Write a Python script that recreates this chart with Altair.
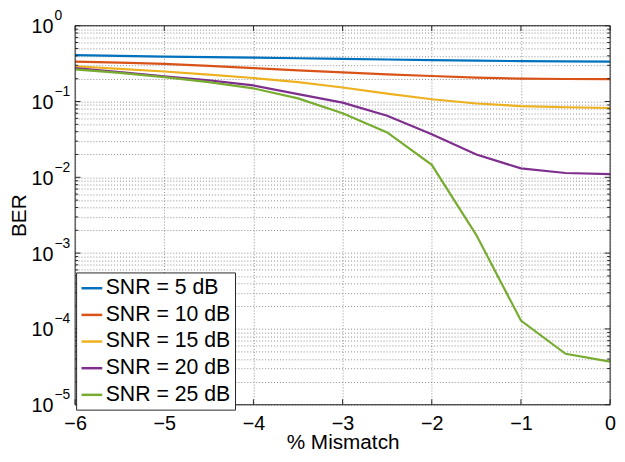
import altair as alt
import pandas as pd

# ---- data ----
mismatch = [-6, -5.5, -5, -4.5, -4, -3.5, -3, -2.5, -2, -1.5, -1, -0.5, 0]
ber_snr5 = [0.41, 0.40, 0.391, 0.385, 0.38, 0.372, 0.365, 0.358, 0.352, 0.346, 0.341, 0.338, 0.336]
ber_snr10 = [0.335, 0.325, 0.314, 0.295, 0.276, 0.258, 0.242, 0.228, 0.217, 0.207, 0.200, 0.198, 0.197]
ber_snr15 = [0.292, 0.27, 0.249, 0.226, 0.204, 0.18, 0.153, 0.127, 0.107, 0.094, 0.087, 0.084, 0.082]
ber_snr20 = [0.276, 0.245, 0.215, 0.19, 0.163, 0.125, 0.0965, 0.065, 0.037, 0.0200, 0.0131, 0.0114, 0.011]
ber_snr25 = [0.265, 0.238, 0.21, 0.18, 0.149, 0.11, 0.07, 0.039, 0.0146, 0.00173, 0.000129, 0.000047, 0.000037]

series_labels = ["SNR = 5 dB", "SNR = 10 dB", "SNR = 15 dB", "SNR = 20 dB", "SNR = 25 dB"]
series_colors = ["#0072BD", "#D95319", "#EDB120", "#7E2F8E", "#77AC30"]

x_ticks = [-6, -5, -4, -3, -2, -1, 0]
y_decades = [1e-5, 1e-4, 1e-3, 1e-2, 1e-1, 1]
y_exponents = ["\u22125", "\u22124", "\u22123", "\u22122", "\u22121", "0"]
y_minor = [m * 10.0 ** k for k in range(-5, 0) for m in range(2, 10)]

# ---- tables built from the arrays ----
all_series = [ber_snr5, ber_snr10, ber_snr15, ber_snr20, ber_snr25]
rows = []
for si, (lab, vals) in enumerate(zip(series_labels, all_series)):
    for xv, yv in zip(mismatch, vals):
        rows.append({"x": xv, "ber": yv, "series": lab, "k": si})
df_lines = pd.DataFrame(rows)
df_dec = pd.DataFrame({"ber": y_decades, "ten": ["10"] * len(y_decades), "exp": y_exponents})
df_minor = pd.DataFrame({"ber": y_minor})
df_xt = pd.DataFrame({"x": x_ticks})
df_one = pd.DataFrame({"a": [0]})

W, H = 542, 384
FONT = "Liberation Sans"
FRAME = "#262626"
GRID = "#8c8c8c"

xscale = alt.Scale(domain=[-6, 0], nice=False, zero=False)
yscale = alt.Scale(type="log", domain=[1e-5, 1], nice=False)

xaxis = alt.Axis(values=x_ticks, format="d", grid=True, gridDash=[1, 2], gridColor=GRID,
                 gridOpacity=1, ticks=False, domain=False,
                 labelFontSize=20, labelFont=FONT, labelColor="black",
                 labelPadding=9, labelFlush=False,
                 title="% Mismatch", titleFontSize=21, titleFont=FONT,
                 titleFontWeight="normal", titleColor="black",
                 titleY=44, titleBaseline="alphabetic")
yaxis = alt.Axis(values=y_decades + y_minor, grid=True, gridDash=[1, 2], gridColor=GRID,
                 gridOpacity=1, ticks=False, domain=False, labels=False,
                 title="BER", titleFontSize=21, titleFont=FONT,
                 titleFontWeight="normal", titleColor="black",
                 titleX=-56, titleY=192, titleAngle=270,
                 titleAlign="center", titleBaseline="middle")

lines = alt.Chart(df_lines).mark_line(strokeWidth=2.2).encode(
    x=alt.X("x:Q", scale=xscale, axis=xaxis),
    y=alt.Y("ber:Q", scale=yscale, axis=yaxis),
    color=alt.Color("series:N",
                    scale=alt.Scale(domain=series_labels, range=series_colors),
                    legend=alt.Legend(title=None, orient="none", legendX=1, legendY=250,
                                      symbolType="stroke", symbolSize=441,
                                      symbolStrokeWidth=2.5, labelFontSize=21.5,
                                      labelFont=FONT, labelColor="black",
                                      labelOffset=2, rowPadding=4, padding=4,
                                      strokeColor=FRAME, fillColor="white",
                                      cornerRadius=0)),
    order=alt.Order("k:Q"),
)

ymaj_l = alt.Chart(df_dec).mark_rule(color=FRAME).encode(
    y=alt.Y("ber:Q", scale=yscale), x=alt.value(0), x2=alt.value(5.5))
ymaj_r = alt.Chart(df_dec).mark_rule(color=FRAME).encode(
    y=alt.Y("ber:Q", scale=yscale), x=alt.value(W), x2=alt.value(W - 5.5))
ymin_l = alt.Chart(df_minor).mark_rule(color=FRAME).encode(
    y=alt.Y("ber:Q", scale=yscale), x=alt.value(0), x2=alt.value(3))
ymin_r = alt.Chart(df_minor).mark_rule(color=FRAME).encode(
    y=alt.Y("ber:Q", scale=yscale), x=alt.value(W), x2=alt.value(W - 3))
xt_b = alt.Chart(df_xt).mark_rule(color=FRAME).encode(
    x=alt.X("x:Q", scale=xscale), y=alt.value(H), y2=alt.value(H - 5.5))
xt_t = alt.Chart(df_xt).mark_rule(color=FRAME).encode(
    x=alt.X("x:Q", scale=xscale), y=alt.value(0), y2=alt.value(5.5))

ten = alt.Chart(df_dec).mark_text(align="right", baseline="middle", fontSize=20,
                                  font=FONT, color="black", dy=1.5).encode(
    y=alt.Y("ber:Q", scale=yscale), x=alt.value(-22), text="ten:N")
expo = alt.Chart(df_dec).mark_text(align="left", baseline="middle", fontSize=14,
                                   font=FONT, color="black", dy=-9.5).encode(
    y=alt.Y("ber:Q", scale=yscale), x=alt.value(-21), text="exp:N")

frame = alt.Chart(df_one).mark_rect(filled=False, stroke=FRAME, strokeWidth=1).encode(
    x=alt.value(0), x2=alt.value(W), y=alt.value(0), y2=alt.value(H))

chart = alt.layer(lines, ymaj_l, ymaj_r, ymin_l, ymin_r, xt_b, xt_t, ten, expo, frame).properties(
    width=W, height=H,
    autosize=alt.AutoSizeParams(type="none"),
    padding={"left": 68, "top": 15, "right": 7, "bottom": 46},
).configure_view(stroke=None).configure(background="white")

chart.save("out.html", embed_options={"renderer": "svg", "actions": False})
